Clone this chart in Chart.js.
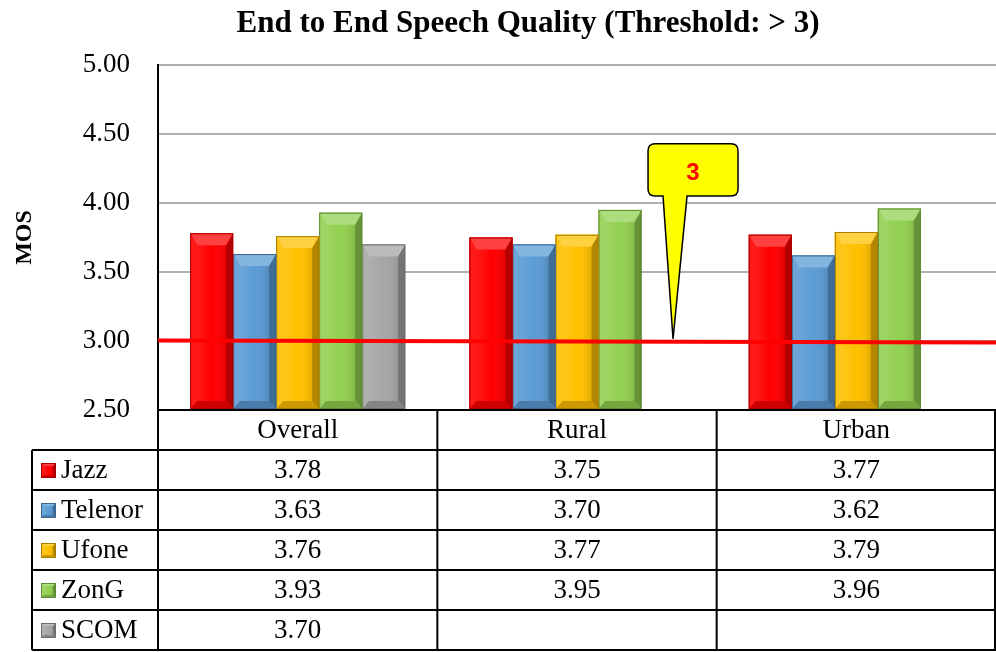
<!DOCTYPE html>
<html>
<head>
<meta charset="utf-8">
<script src="https://cdn.jsdelivr.net/npm/chart.js@4/dist/chart.umd.min.js"></script>
<style>
  html, body { margin: 0; padding: 0; background: #fff; }
  canvas { display: block; }
</style>
</head>
<body>
<canvas id="c" width="996" height="652"></canvas>
<script>
// ---- data ----
const categories = ['Overall', 'Rural', 'Urban'];
const seriesNames = ['Jazz', 'Telenor', 'Ufone', 'ZonG', 'SCOM'];
const jazz    = [3.78, 3.75, 3.77];
const telenor = [3.63, 3.70, 3.62];
const ufone   = [3.76, 3.77, 3.79];
const zong    = [3.93, 3.95, 3.96];
const scom    = [3.70, null, null];
const yMin = 2.5, yMax = 5.0, yStep = 0.5;
const threshold = 3;
const thresholdLabel = '3';
const chartTitle = 'End to End Speech Quality (Threshold: > 3)';
const yAxisTitle = 'MOS';

// ---- styles ----
const colors = ['#FF0000', '#5B9BD5', '#FFC000', '#92D050', '#A6A6A6'];
const serif = '"Liberation Serif", "DejaVu Serif", serif';
const allSeries = [jazz, telenor, ufone, zong, scom];

function mix(hex, target, t) {
  const n = parseInt(hex.slice(1), 16);
  const r = (n >> 16) & 255, g = (n >> 8) & 255, b = n & 255;
  const tr = target ? 255 : 0;
  return 'rgb(' + Math.round(r + (tr - r) * t) + ',' + Math.round(g + (tr - g) * t) + ',' + Math.round(b + (tr - b) * t) + ')';
}

function bevelRect(ctx, x0, y0, x1, y1, base, bs, bt, bb) {
  ctx.save();
  ctx.fillStyle = base;
  ctx.fillRect(x0, y0, x1 - x0, y1 - y0);
  const poly = (pts, col) => {
    ctx.beginPath();
    ctx.moveTo(pts[0][0], pts[0][1]);
    for (let i = 1; i < pts.length; i++) ctx.lineTo(pts[i][0], pts[i][1]);
    ctx.closePath();
    ctx.fillStyle = col;
    ctx.fill();
  };
  poly([[x0, y0], [x1, y0], [x1 - bs, y0 + bt], [x0 + bs, y0 + bt]], mix(base, true, 0.25));
  poly([[x0, y0], [x0 + bs, y0 + bt], [x0 + bs, y1 - bb], [x0, y1]], mix(base, true, 0.1));
  poly([[x1, y0], [x1 - bs, y0 + bt], [x1 - bs, y1 - bb], [x1, y1]], mix(base, false, 0.3));
  poly([[x0, y1], [x0 + bs, y1 - bb], [x1 - bs, y1 - bb], [x1, y1]], mix(base, false, 0.2));
  const g = ctx.createLinearGradient(x0 + bs, 0, x1 - bs, 0);
  g.addColorStop(0, 'rgba(255,255,255,0.10)');
  g.addColorStop(0.5, 'rgba(255,255,255,0)');
  g.addColorStop(1, 'rgba(0,0,0,0.10)');
  ctx.fillStyle = g;
  ctx.fillRect(x0 + bs, y0 + bt, (x1 - x0) - 2 * bs, (y1 - y0) - bt - bb);
  ctx.strokeStyle = mix(base, false, 0.35);
  ctx.lineWidth = 1;
  ctx.strokeRect(x0 + 0.5, y0 + 0.5, x1 - x0 - 1, y1 - y0 - 1);
  ctx.restore();
}

const titlePlugin = {
  id: 'offsetTitle',
  afterDraw(chart) {
    const ctx = chart.ctx;
    ctx.save();
    ctx.fillStyle = '#000';
    ctx.font = 'bold 31px ' + serif;
    ctx.textAlign = 'center';
    ctx.textBaseline = 'middle';
    ctx.fillText(chartTitle, 528, 24);
    ctx.restore();
  }
};

const bevelPlugin = {
  id: 'bevel',
  afterDatasetDraw(chart, args) {
    const ctx = chart.ctx, ca = chart.chartArea;
    const ds = chart.data.datasets[args.index];
    args.meta.data.forEach((el, i) => {
      if (ds.data[i] == null) return;
      const p = el.getProps(['x', 'y', 'base', 'width'], true);
      const x0 = p.x - p.width / 2, x1 = p.x + p.width / 2;
      const yb = Math.min(p.base, ca.bottom - 1);
      const yt = Math.max(p.y, ca.top);
      bevelRect(ctx, x0, yt, x1, yb, colors[args.index], 7, 12, 8);
    });
  }
};

const thresholdPlugin = {
  id: 'threshold',
  afterDatasetsDraw(chart) {
    const ctx = chart.ctx, ca = chart.chartArea, y = chart.scales.y;
    const py = y.getPixelForValue(threshold);
    ctx.save();
    ctx.strokeStyle = '#FF0000';
    ctx.lineWidth = 4;
    ctx.beginPath();
    ctx.moveTo(ca.left, py - 0.5);
    ctx.lineTo(ca.right, py + 1.5);
    ctx.stroke();

    // callout
    const tipX = ca.left + (ca.right - ca.left) * 0.6146;
    const bx0 = tipX - 25, bx1 = tipX + 65;
    const by0 = y.getPixelForValue(4.43), by1 = y.getPixelForValue(4.05);
    const r = 7;
    ctx.beginPath();
    ctx.moveTo(bx0 + r, by0);
    ctx.lineTo(bx1 - r, by0);
    ctx.quadraticCurveTo(bx1, by0, bx1, by0 + r);
    ctx.lineTo(bx1, by1 - r);
    ctx.quadraticCurveTo(bx1, by1, bx1 - r, by1);
    ctx.lineTo(tipX + 14, by1);
    ctx.lineTo(tipX, py - 2);
    ctx.lineTo(tipX - 10, by1);
    ctx.lineTo(bx0 + r, by1);
    ctx.quadraticCurveTo(bx0, by1, bx0, by1 - r);
    ctx.lineTo(bx0, by0 + r);
    ctx.quadraticCurveTo(bx0, by0, bx0 + r, by0);
    ctx.closePath();
    ctx.fillStyle = '#FFFF00';
    ctx.fill();
    ctx.strokeStyle = '#000';
    ctx.lineWidth = 1.5;
    ctx.stroke();
    ctx.fillStyle = '#FF0000';
    ctx.font = 'bold 24px "Liberation Sans", Arial, sans-serif';
    ctx.textAlign = 'center';
    ctx.textBaseline = 'middle';
    ctx.fillText(thresholdLabel, (bx0 + bx1) / 2, by0 + 30);
    ctx.restore();
  }
};

const tablePlugin = {
  id: 'dataTable',
  afterDraw(chart) {
    const ctx = chart.ctx, ca = chart.chartArea, xs = chart.scales.x;
    const rowH = 40;
    const top = ca.bottom;
    const legLeft = 32;
    const n = categories.length;
    const catW = (ca.right - ca.left) / n;
    const rows = seriesNames.length;
    const bottom = top + rowH * (rows + 1);
    ctx.save();
    ctx.strokeStyle = '#000';
    ctx.lineWidth = 2;
    ctx.beginPath();
    ctx.moveTo(ca.left, top); ctx.lineTo(ca.right, top);
    for (let r = 1; r <= rows + 1; r++) {
      const yy = Math.min(top + r * rowH, 651);
      ctx.moveTo(legLeft, yy); ctx.lineTo(ca.right, yy);
    }
    ctx.moveTo(legLeft, top + rowH); ctx.lineTo(legLeft, bottom);
    for (let c = 0; c <= n; c++) {
      const xx = Math.min(ca.left + c * catW, ca.right - 1);
      ctx.moveTo(xx, top); ctx.lineTo(xx, bottom);
    }
    ctx.stroke();

    ctx.fillStyle = '#000';
    ctx.font = '27px ' + serif;
    ctx.textBaseline = 'middle';
    ctx.textAlign = 'center';
    categories.forEach((cat, i) => {
      ctx.fillText(cat, xs.getPixelForValue(i), top + rowH / 2 + 1);
    });
    seriesNames.forEach((name, r) => {
      const cy = top + rowH * (r + 1) + rowH / 2 + 1;
      bevelRect(ctx, 41, cy - 8, 56, cy + 7, colors[r], 3, 3, 3);
      ctx.fillStyle = '#000';
      ctx.textAlign = 'left';
      ctx.fillText(name, 61, cy);
      ctx.textAlign = 'center';
      allSeries[r].forEach((v, i) => {
        if (v == null) return;
        ctx.fillText(v.toFixed(2), xs.getPixelForValue(i), cy);
      });
    });
    ctx.restore();
  }
};

const datasets = seriesNames.map((name, i) => ({
  label: name,
  data: allSeries[i],
  backgroundColor: colors[i],
  borderWidth: 0,
  barPercentage: 1.0,
  categoryPercentage: 0.77
}));

new Chart(document.getElementById('c'), {
  type: 'bar',
  data: { labels: categories, datasets },
  options: {
    responsive: false,
    animation: false,
    layout: { padding: { left: 0, right: 0, top: 65, bottom: 242 } },
    plugins: {
      legend: { display: false },
      tooltip: { enabled: false },
      title: { display: false }
    },
    scales: {
      x: {
        ticks: { display: false },
        grid: { display: false, drawTicks: false },
        border: { display: true, color: '#000', width: 2 },
        afterFit(scale) { scale.height = 0; }
      },
      y: {
        min: yMin, max: yMax,
        ticks: {
          stepSize: yStep,
          color: '#000',
          padding: 28,
          font: { family: serif, size: 27 },
          callback: v => Number(v).toFixed(2)
        },
        grid: { color: '#B0B0B0', lineWidth: 2, drawTicks: false },
        border: { display: true, color: '#000', width: 2 },
        title: {
          display: true,
          text: yAxisTitle,
          color: '#000',
          font: { family: serif, size: 24, weight: 'bold' },
          padding: { top: 10, bottom: 0 }
        },
        afterFit(scale) { scale.width = 158; }
      }
    }
  },
  plugins: [bevelPlugin, thresholdPlugin, tablePlugin, titlePlugin]
});
</script>
</body>
</html>
